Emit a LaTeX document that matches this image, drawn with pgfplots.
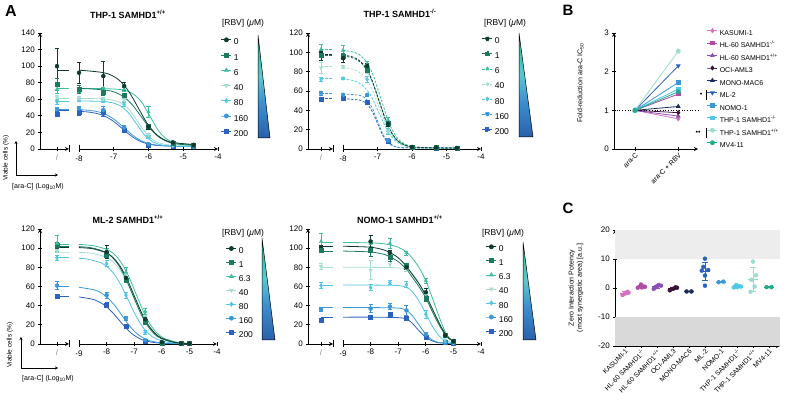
\documentclass[border=0pt]{standalone}
\usepackage{fontspec}
\setmainfont{Liberation Sans}
\usepackage{pgfplots}
\pgfplotsset{compat=1.18}
\usetikzlibrary{arrows.meta}

\definecolor{a0}{HTML}{0E3B2E}
\definecolor{a1}{HTML}{1D7A5F}
\definecolor{a6}{HTML}{3DBE9E}
\definecolor{a40}{HTML}{A6DDD0}
\definecolor{a80}{HTML}{52C6E2}
\definecolor{a160}{HTML}{3B97DA}
\definecolor{a200}{HTML}{2C62BF}
\definecolor{kas}{HTML}{D472C0}
\definecolor{hln}{HTML}{B14DA6}
\definecolor{hlp}{HTML}{8A4FB5}
\definecolor{oci}{HTML}{3B1238}
\definecolor{mono}{HTML}{1D2A5C}
\definecolor{mltwo}{HTML}{2C62BF}
\definecolor{nomo}{HTML}{3B97DA}
\definecolor{thpn}{HTML}{4DC8E6}
\definecolor{thpp}{HTML}{9ADDCF}
\definecolor{mvf}{HTML}{1FAE8B}
\definecolor{sh0}{HTML}{142858}
\definecolor{sh1}{HTML}{24529F}
\definecolor{sh2}{HTML}{3D8FCF}
\definecolor{sh3}{HTML}{5CC8D0}
\definecolor{sh4}{HTML}{30BE98}
\definecolor{sh5}{HTML}{135A45}
\pgfdeclareverticalshading{rbv}{100bp}{color(0bp)=(sh0); color(20bp)=(sh1); color(42bp)=(sh2); color(55bp)=(sh3); color(70bp)=(sh4); color(88bp)=(sh5); color(100bp)=(black)}

\newcommand\fT{\fontsize{8}{9.6}\selectfont}
\newcommand\fL{\fontsize{8.5}{10}\selectfont}
\newcommand\fS{\fontsize{7}{8.4}\selectfont}

\pgfplotsset{
 base/.style={scale only axis, clip=false, anchor=south west, axis line style={line width=0.8pt,-}, every tick/.style={line width=0.8pt, black}, major tick length=3.5pt, tick align=outside, /pgf/number format/assume math mode=true, ticklabel style={font=\fT}},
 ctrl/.style={base, axis x line=bottom, axis y line=left, xmin=0, xmax=1, ymin=0, extra x ticks={1}, extra x tick labels={}, extra x tick style={major tick length=7pt, tick align=center}},
 main/.style={base, axis x line=bottom, axis y line=none, ymin=0, ytick=\empty, extra x tick style={major tick length=7pt, tick align=center}, legend image code/.code={\draw[mark repeat=2,mark phase=2,##1] plot coordinates {(0pt,2.8pt) (5pt,2.8pt) (10pt,2.8pt)};}},
 leg/.style n args={3}{legend style={at={(#1,#2)}, anchor=north west, draw=none, fill=none, inner sep=0pt, outer sep=0pt, row sep=#3, column sep=1pt, nodes={inner sep=1pt, text height=6pt, text depth=1.5pt, font=\fL}}, legend cell align=left},
 eb/.style={/pgfplots/error bars/y dir=both, /pgfplots/error bars/y explicit, /pgfplots/error bars/error bar style={line width=0.6pt, solid}, /pgfplots/error bars/error mark options={rotate=90, line width=0.6pt, mark size=2pt, solid}},
 pts/.style={only marks, mark size=2pt, forget plot, eb},
 crv/.style={no marks, smooth, line width=0.8pt, forget plot},
 dsh/.style={dash pattern=on 2.5pt off 1.5pt},
 s0/.style={color=a0, mark=*},
 s1/.style={color=a1, mark=square*},
 s6/.style={color=a6, mark=triangle*},
 s40/.style={color=a40, mark=triangle*, mark options={rotate=180}},
 s80/.style={color=a80, mark=diamond*},
 s160/.style={color=a160, mark=*},
 s200/.style={color=a200, mark=square*},
 cmean/.style={only marks, mark=-, mark size=5pt, line width=0.8pt, /pgfplots/error bars/y dir=both, /pgfplots/error bars/y explicit, /pgfplots/error bars/error bar style={line width=0.7pt}, /pgfplots/error bars/error mark options={rotate=90, line width=0.7pt, mark size=3pt}},
}

\begin{document}
\begin{tikzpicture}[x=1pt,y=1pt]
\useasboundingbox (0,0) rectangle (800,415);

% ---------------- labels ----------------
\node[font=\bfseries\fontsize{16}{18}\selectfont] at (11,404) {A};
\node[font=\bfseries\fontsize{15}{17}\selectfont] at (568,405) {B};
\node[font=\bfseries\fontsize{15}{17}\selectfont] at (568,207) {C};
\node[font=\bfseries\fontsize{9}{10}\selectfont] at (128,401) {THP-1 SAMHD1\textsuperscript{+/+}};
\node[font=\bfseries\fontsize{9}{10}\selectfont] at (400,402) {THP-1 SAMHD1\textsuperscript{-/-}};
\node[font=\bfseries\fontsize{9}{10}\selectfont] at (128,196) {ML-2 SAMHD1\textsuperscript{+/+}};
\node[font=\bfseries\fontsize{9}{10}\selectfont] at (400,196) {NOMO-1 SAMHD1\textsuperscript{+/+}};
\node[font=\fL] at (243,392) {[RBV] (\textit{μ}M)};
\node[font=\fL] at (505,392) {[RBV] (\textit{μ}M)};
\node[font=\fL] at (243,182) {[RBV] (\textit{μ}M)};
\node[font=\fL] at (503,182) {[RBV] (\textit{μ}M)};

% colour wedges
\shade[shading=rbv] (258,380) -- (258,277) -- (270,277) -- cycle;
\draw[line width=0.5pt] (258,380) -- (258,277) -- (270,277) -- cycle;
\shade[shading=rbv] (519,382) -- (519,278) -- (533,278) -- cycle;
\draw[line width=0.5pt] (519,382) -- (519,278) -- (533,278) -- cycle;
\shade[shading=rbv] (262,177) -- (262,75) -- (275,75) -- cycle;
\draw[line width=0.5pt] (262,177) -- (262,75) -- (275,75) -- cycle;
\shade[shading=rbv] (523,173) -- (523,75) -- (536,75) -- cycle;
\draw[line width=0.5pt] (523,173) -- (523,75) -- (536,75) -- cycle;

% axis arrows
\draw[-{Stealth[length=3pt,width=3pt]}, line width=0.6pt] (16,240) -- (16,274);
\draw[-{Stealth[length=3pt,width=3pt]}, line width=0.6pt] (16,240) -- (58,240);
\node[rotate=90, font=\fontsize{6.5}{7.5}\selectfont] at (6,257) {Viable cells (\%)};
\node[font=\fontsize{7}{8}\selectfont] at (38,228) {[ara-C] (Log\textsubscript{10}M)};
\draw[-{Stealth[length=3pt,width=3pt]}, line width=0.6pt] (21,47) -- (21,78);
\draw[-{Stealth[length=3pt,width=3pt]}, line width=0.6pt] (21,47) -- (58,47);
\node[rotate=90, font=\fontsize{6.5}{7.5}\selectfont] at (10,70) {Viable cells (\%)};
\node[font=\fontsize{7}{8}\selectfont] at (48,36) {[ara-C] (Log\textsubscript{10}M)};

% ================= TL: THP-1 SAMHD1 +/+ =================
\begin{axis}[ctrl, at={(40pt,266pt)}, width=29pt, height=116pt, ymax=140, ytick={0,20,...,140}, xtick={0.586}, xticklabels={{\textcolor{gray}{/}}}]
\addplot[crv,a0] coordinates {(0.586,95) (1,95)};
\addplot[crv,a1] coordinates {(0.586,73) (1,73)};
\addplot[crv,a6] coordinates {(0.586,73) (1,73)};
\addplot[crv,a40] coordinates {(0.586,61) (1,61)};
\addplot[crv,a80] coordinates {(0.586,58) (1,58)};
\addplot[crv,a160] coordinates {(0.586,48) (1,48)};
\addplot[crv,a200] coordinates {(0.586,46) (1,46)};
\addplot[pts,s0] coordinates {(0.586,100) +- (0,22)};
\addplot[pts,s1] coordinates {(0.586,78) +- (0,7)};
\addplot[pts,s6] coordinates {(0.586,72) +- (0,5)};
\addplot[pts,s40] coordinates {(0.586,62) +- (0,3)};
\addplot[pts,s80] coordinates {(0.586,57) +- (0,3)};
\addplot[pts,s160] coordinates {(0.586,48) +- (0,2)};
\addplot[pts,s200] coordinates {(0.586,42) +- (0,3)};
\end{axis}
\begin{axis}[main, at={(79pt,266pt)}, width=139pt, height=116pt, xmin=-8, xmax=-4, ymax=140, xtick={-7,-6,-5,-4}, extra x ticks={-8}, leg={1.0216}{0.9586}{5.7pt}]
\addlegendimage{s0,line width=0.8pt,mark size=2pt}\addlegendentry{0}
\addlegendimage{s1,line width=0.8pt,mark size=2pt}\addlegendentry{1}
\addlegendimage{s6,line width=0.8pt,mark size=2pt}\addlegendentry{6}
\addlegendimage{s40,line width=0.8pt,mark size=2pt}\addlegendentry{40}
\addlegendimage{s80,line width=0.8pt,mark size=2pt}\addlegendentry{80}
\addlegendimage{s160,line width=0.8pt,mark size=2pt}\addlegendentry{160}
\addlegendimage{s200,line width=0.8pt,mark size=2pt}\addlegendentry{200}
\addplot[crv,a200] coordinates {(-8,45.4)(-7.75,44.7)(-7.5,43)(-7.25,39.5)(-7.0,33.2)(-6.75,24.5)(-6.5,15.8)(-6.25,9.5)(-6.0,6)(-5.75,4.3)(-5.25,3.3)(-4.7,3)};
\addplot[crv,a160] coordinates {(-8,47.5)(-7.7,46.6)(-7.45,44.9)(-7.2,41.2)(-6.95,34.6)(-6.7,25.5)(-6.45,16.4)(-6.2,9.8)(-5.95,6.2)(-5.7,4.4)(-5.2,3.3)(-4.7,3)};
\addplot[crv,a80] coordinates {(-8,58)(-7.85,57.9)(-7.35,57.5)(-7.1,56.3)(-6.85,53)(-6.6,44.8)(-6.35,30.5)(-6.1,16.2)(-5.85,8)(-5.6,4.7)(-5.35,3.6)(-4.7,3)};
\addplot[crv,a40] coordinates {(-8,61)(-7.8,61)(-7.3,60.4)(-7.05,59.2)(-6.8,55.8)(-6.55,47.3)(-6.3,32.5)(-6.05,17.7)(-5.8,9.2)(-5.55,5.8)(-5.3,4.6)(-4.7,4)};
\addplot[crv,a6] coordinates {(-8,73)(-7.45,72.9)(-6.95,72.3)(-6.7,70.9)(-6.45,66.8)(-6.2,56.7)(-5.95,39)(-5.7,21.3)(-5.45,11.2)(-5.2,7.1)(-4.95,5.7)(-4.7,5.2)};
\addplot[crv,a1] coordinates {(-8,73)(-7.7,72.6)(-7.2,70.9)(-6.95,68.2)(-6.7,62.6)(-6.45,52.5)(-6.2,38.5)(-5.95,24.5)(-5.7,14.4)(-5.45,8.8)(-5.2,6.1)(-4.7,4.4)};
\addplot[crv,a0] coordinates {(-8,95)(-7.8,94.5)(-7.3,92.2)(-7.05,88.7)(-6.8,81.4)(-6.55,68.3)(-6.3,50)(-6.05,31.7)(-5.8,18.6)(-5.55,11.3)(-5.3,7.8)(-4.7,5.4)};
\addplot[pts,s200] coordinates {(-8,45) +- (0,4) (-7.3,44) +- (0,4) (-6.7,23) +- (0,2) (-6,5) +- (0,1) (-5.3,3) +- (0,1) (-4.7,3) +- (0,1)};
\addplot[pts,s160] coordinates {(-8,49) +- (0,3) (-7.3,47) +- (0,4) (-6.7,26) +- (0,2) (-6,6) +- (0,1) (-5.3,4) +- (0,1) (-4.7,3) +- (0,1)};
\addplot[pts,s80] coordinates {(-8,59) +- (0,2) (-7.3,58) +- (0,2) (-6.7,54) +- (0,2) (-6,15) +- (0,2) (-5.3,4) +- (0,1) (-4.7,3) +- (0,1)};
\addplot[pts,s40] coordinates {(-8,61) +- (0,2) (-7.3,60) +- (0,2) (-6.7,59) +- (0,2) (-6,17) +- (0,2) (-5.3,5) +- (0,1) (-4.7,4) +- (0,1)};
\addplot[pts,s6] coordinates {(-8,72) +- (0,3) (-7.3,73) +- (0,2) (-6.7,72) +- (0,2) (-6,45) +- (0,7) (-5.3,8) +- (0,1) (-4.7,5) +- (0,1)};
\addplot[pts,s1] coordinates {(-8,72) +- (0,5) (-7.3,69) +- (0,4) (-6.7,65) +- (0,2) (-6,27) +- (0,2) (-5.3,7) +- (0,1) (-4.7,4) +- (0,1)};
\addplot[pts,s0] coordinates {(-8,92) +- (0,13) (-7.3,88) +- (0,18) (-6.7,76) +- (0,5) (-6,27) +- (0,3) (-5.3,8) +- (0,1) (-4.7,5) +- (0,1)};
\end{axis}

% ================= TR: THP-1 SAMHD1 -/- =================
\begin{axis}[ctrl, at={(308pt,266pt)}, width=25pt, height=116pt, ymax=120, ytick={0,20,...,120}, xtick={0.52}, xticklabels={{\textcolor{gray}{/}}}]
\addplot[crv,dsh,a0] coordinates {(0.52,98) (1,98)};
\addplot[crv,dsh,a1] coordinates {(0.52,97) (1,97)};
\addplot[crv,dsh,a6] coordinates {(0.52,103) (1,103)};
\addplot[crv,dsh,a40] coordinates {(0.52,85) (1,85)};
\addplot[crv,dsh,a80] coordinates {(0.52,73) (1,73)};
\addplot[crv,dsh,a160] coordinates {(0.52,57) (1,57)};
\addplot[crv,dsh,a200] coordinates {(0.52,52) (1,52)};
\addplot[pts,s0] coordinates {(0.52,100) +- (0,8)};
\addplot[pts,s1] coordinates {(0.52,97.5) +- (0,3)};
\addplot[pts,s6] coordinates {(0.52,103) +- (0,5)};
\addplot[pts,s40] coordinates {(0.52,84) +- (0,6)};
\addplot[pts,s80] coordinates {(0.52,72) +- (0,2)};
\addplot[pts,s160] coordinates {(0.52,58) +- (0,2)};
\addplot[pts,s200] coordinates {(0.52,51) +- (0,2)};
\end{axis}
\begin{axis}[main, at={(343pt,266pt)}, width=138pt, height=116pt, xmin=-8, xmax=-4, ymax=120, xtick={-7,-6,-5,-4}, extra x ticks={-8}, leg={1.0072}{0.9672}{5.5pt}]
\addlegendimage{s0,dsh,line width=0.8pt,mark size=2pt}\addlegendentry{0}
\addlegendimage{s1,dsh,line width=0.8pt,mark size=2pt}\addlegendentry{1}
\addlegendimage{s6,dsh,line width=0.8pt,mark size=2pt}\addlegendentry{6}
\addlegendimage{s40,dsh,line width=0.8pt,mark size=2pt}\addlegendentry{40}
\addlegendimage{s80,dsh,line width=0.8pt,mark size=2pt}\addlegendentry{80}
\addlegendimage{s160,dsh,line width=0.8pt,mark size=2pt}\addlegendentry{160}
\addlegendimage{s200,dsh,line width=0.8pt,mark size=2pt}\addlegendentry{200}
\addplot[crv,dsh,a200] coordinates {(-8,52)(-7.5,50.4)(-7.3,46.3)(-7.15,38.6)(-7.0,26.5)(-6.85,14.4)(-6.7,6.7)(-6.5,2.6)(-6.25,1.3)(-5.3,1)(-4.7,1)};
\addplot[crv,dsh,a160] coordinates {(-8,57)(-7.5,55.3)(-7.3,50.7)(-7.15,42.3)(-7.0,29)(-6.85,15.7)(-6.7,7.3)(-6.5,2.7)(-6.25,1.3)(-5.3,1)(-4.7,1)};
\addplot[crv,dsh,a80] coordinates {(-8,72.4)(-7.7,70.8)(-7.45,66.4)(-7.2,55.7)(-6.95,37)(-6.7,18.3)(-6.45,7.6)(-6.2,3.2)(-5.95,1.7)(-5.3,1.1)(-4.7,1)};
\addplot[crv,dsh,a40] coordinates {(-8,84.3)(-7.7,82.4)(-7.45,77.4)(-7.2,64.8)(-6.95,43)(-6.7,21.2)(-6.45,8.6)(-6.2,3.6)(-5.95,1.8)(-5.3,1.1)(-4.7,1)};
\addplot[crv,dsh,a6] coordinates {(-8,102.1)(-7.65,99.8)(-7.4,93.7)(-7.15,78.5)(-6.9,52)(-6.65,25.5)(-6.4,10.3)(-6.15,4.2)(-5.9,2)(-5.3,1.1)(-4.7,1)};
\addplot[crv,dsh,a1] coordinates {(-8,96.2)(-7.7,94)(-7.45,88.3)(-7.2,74)(-6.95,49)(-6.7,24)(-6.45,9.7)(-6.2,4)(-5.95,2)(-5.3,1.1)(-4.7,1)};
\addplot[crv,dsh,a0] coordinates {(-8,97.2)(-7.7,95)(-7.45,89.2)(-7.2,74.7)(-6.95,49.5)(-6.7,24.3)(-6.45,9.8)(-6.2,4)(-5.95,2)(-5.3,1.1)(-4.7,1)};
\addplot[pts,s200] coordinates {(-8,53) +- (0,1) (-7.3,48) +- (0,2) (-6.7,8) +- (0,2) (-6,1.5) +- (0,0.5) (-5.3,1) +- (0,0.5) (-4.7,1) +- (0,0.5)};
\addplot[pts,s160] coordinates {(-8,56) +- (0,1) (-7.3,56) +- (0,1) (-6.7,9) +- (0,2) (-6,1.5) +- (0,0.5) (-5.3,1) +- (0,0.5) (-4.7,1) +- (0,0.5)};
\addplot[pts,s80] coordinates {(-8,73) +- (0,1) (-7.3,72) +- (0,3) (-6.7,18) +- (0,3) (-6,2) +- (0,0.5) (-5.3,1) +- (0,0.5) (-4.7,1) +- (0,0.5)};
\addplot[pts,s40] coordinates {(-8,85) +- (0,2) (-7.3,80) +- (0,2) (-6.7,18) +- (0,2) (-6,2) +- (0,0.5) (-5.3,1) +- (0,0.5) (-4.7,1) +- (0,0.5)};
\addplot[pts,s6] coordinates {(-8,102) +- (0,5) (-7.3,88) +- (0,3) (-6.7,30) +- (0,3) (-6,2) +- (0,1) (-5.3,1.5) +- (0,0.5) (-4.7,1) +- (0,0.5)};
\addplot[pts,s1] coordinates {(-8,96) +- (0,3) (-7.3,82) +- (0,3) (-6.7,27) +- (0,2) (-6,2) +- (0,1) (-5.3,1.5) +- (0,0.5) (-4.7,1) +- (0,0.5)};
\addplot[pts,s0] coordinates {(-8,94) +- (0,4) (-7.3,86) +- (0,3) (-6.7,26) +- (0,3) (-6,2) +- (0,1) (-5.3,1.5) +- (0,1) (-4.7,1) +- (0,1)};
\end{axis}

% ================= BL: ML-2 =================
\begin{axis}[ctrl, at={(40pt,71pt)}, width=29pt, height=115pt, ymax=120, ytick={0,20,...,120}, xtick={0.586}, xticklabels={{\textcolor{gray}{/}}}]
\addplot[crv,a0] coordinates {(0.586,101) (1,101)};
\addplot[crv,a1] coordinates {(0.586,102) (1,102)};
\addplot[crv,a6] coordinates {(0.586,104) (1,104)};
\addplot[crv,a40] coordinates {(0.586,96) (1,96)};
\addplot[crv,a80] coordinates {(0.586,90) (1,90)};
\addplot[crv,a160] coordinates {(0.586,60) (1,60)};
\addplot[crv,a200] coordinates {(0.586,50) (1,50)};
\addplot[pts,s0] coordinates {(0.586,101) +- (0,2)};
\addplot[pts,s1] coordinates {(0.586,103) +- (0,3)};
\addplot[pts,s6] coordinates {(0.586,105) +- (0,8)};
\addplot[pts,s40] coordinates {(0.586,98) +- (0,2)};
\addplot[pts,s80] coordinates {(0.586,90) +- (0,3)};
\addplot[pts,s160] coordinates {(0.586,61) +- (0,4)};
\addplot[pts,s200] coordinates {(0.586,50) +- (0,2)};
\end{axis}
\begin{axis}[main, at={(79pt,71pt)}, width=138pt, height=115pt, xmin=-9, xmax=-4, ymax=120, xtick={-8,-7,-6,-5,-4}, extra x ticks={-9}, leg={1.0652}{0.8478}{4.4pt}]
\addlegendimage{s0,line width=0.8pt,mark size=2pt}\addlegendentry{0}
\addlegendimage{s1,line width=0.8pt,mark size=2pt}\addlegendentry{1}
\addlegendimage{s6,line width=0.8pt,mark size=2pt}\addlegendentry{6.3}
\addlegendimage{s40,line width=0.8pt,mark size=2pt}\addlegendentry{40}
\addlegendimage{s80,line width=0.8pt,mark size=2pt}\addlegendentry{80}
\addlegendimage{s160,line width=0.8pt,mark size=2pt}\addlegendentry{160}
\addlegendimage{s200,line width=0.8pt,mark size=2pt}\addlegendentry{200}
\addplot[crv,a200] coordinates {(-9,49.1)(-8.55,47)(-8.3,44.4)(-8.05,40)(-7.8,33.3)(-7.55,25)(-7.3,16.7)(-7.05,10)(-6.8,5.6)(-6.55,3)(-6.05,0.8)(-5,0)};
\addplot[crv,a160] coordinates {(-9,59.2)(-8.45,56.5)(-8.2,53.3)(-7.95,47.9)(-7.7,40)(-7.45,30)(-7.2,20)(-6.95,12.1)(-6.7,6.7)(-6.45,3.5)(-5.95,1)(-5,0.1)};
\addplot[crv,a80] coordinates {(-9,89.4)(-8.7,88.6)(-8.2,84.7)(-7.95,79.9)(-7.7,71.9)(-7.45,59.9)(-7.2,45)(-6.95,30.1)(-6.7,18.1)(-6.45,10.1)(-6.2,5.3)(-5.7,1.4)(-5,0.2)};
\addplot[crv,a40] coordinates {(-9,95.6)(-8.5,94.5)(-8,90.3)(-7.75,85.2)(-7.5,76.7)(-7.25,63.9)(-7,48)(-6.75,32.1)(-6.5,19.3)(-6.25,10.8)(-6,5.7)(-5.5,1.5)(-5,0.4)};
\addplot[crv,a6] coordinates {(-9,104)(-8.43,102.3)(-7.93,97.9)(-7.68,92.4)(-7.43,83.1)(-7.18,69.3)(-6.93,52)(-6.68,34.7)(-6.43,20.9)(-6.18,11.6)(-5.93,6.1)(-5.43,1.7)(-5,0.5)};
\addplot[crv,a1] coordinates {(-9,101.6)(-8.55,100.4)(-8.05,96)(-7.8,90.6)(-7.55,81.5)(-7.3,67.9)(-7.05,51)(-6.8,34.1)(-6.55,20.5)(-6.3,11.4)(-6.05,6)(-5.55,1.6)(-5,0.4)};
\addplot[crv,a0] coordinates {(-9,100.6)(-8.5,99.4)(-8,95)(-7.75,89.7)(-7.5,80.7)(-7.25,67.3)(-7,50.5)(-6.75,33.7)(-6.5,20.3)(-6.25,11.3)(-6,6)(-5.5,1.6)(-5,0.4)};
\addplot[pts,s200] coordinates {(-8,41) +- (0,3) (-7.3,19) +- (0,2) (-6.6,3) +- (0,1) (-6,1) +- (0,0.5) (-5.3,0.5) +- (0,0.5) (-5,0.5) +- (0,0.5)};
\addplot[pts,s160] coordinates {(-8,51) +- (0,3) (-7.3,27) +- (0,2) (-6.6,4) +- (0,1) (-6,1) +- (0,0.5) (-5.3,0.5) +- (0,0.5) (-5,0.5) +- (0,0.5)};
\addplot[pts,s80] coordinates {(-8,84) +- (0,3) (-7.3,51) +- (0,3) (-6.6,12) +- (0,2) (-6,1) +- (0,0.5) (-5.3,0.5) +- (0,0.5) (-5,0.5) +- (0,0.5)};
\addplot[pts,s40] coordinates {(-8,92) +- (0,2) (-7.3,72) +- (0,3) (-6.6,28) +- (0,2) (-6,1.5) +- (0,0.5) (-5.3,0.5) +- (0,0.5) (-5,0.5) +- (0,0.5)};
\addplot[pts,s6] coordinates {(-8,97) +- (0,3) (-7.3,75) +- (0,5) (-6.6,34) +- (0,3) (-6,2) +- (0,1) (-5.3,0.5) +- (0,0.5) (-5,0.5) +- (0,0.5)};
\addplot[pts,s1] coordinates {(-8,93) +- (0,3) (-7.3,67) +- (0,3) (-6.6,24) +- (0,3) (-6,1) +- (0,1) (-5.3,0.5) +- (0,0.5) (-5,0.5) +- (0,0.5)};
\addplot[pts,s0] coordinates {(-8,96) +- (0,7) (-7.3,69) +- (0,4) (-6.6,26) +- (0,3) (-6,2) +- (0,1) (-5.3,0.5) +- (0,0.5) (-5,0.5) +- (0,0.5)};
\end{axis}

% ================= BR: NOMO-1 =================
\begin{axis}[ctrl, at={(308pt,71pt)}, width=25pt, height=115pt, ymax=120, ytick={0,20,...,120}, xtick={0.52}, xticklabels={{\textcolor{gray}{/}}}]
\addplot[crv,a0] coordinates {(0.52,102) (1,102)};
\addplot[crv,a1] coordinates {(0.52,97) (1,97)};
\addplot[crv,a6] coordinates {(0.52,106) (1,106)};
\addplot[crv,a40] coordinates {(0.52,80) (1,80)};
\addplot[crv,a80] coordinates {(0.52,61.5) (1,61.5)};
\addplot[crv,a160] coordinates {(0.52,38) (1,38)};
\addplot[crv,a200] coordinates {(0.52,28) (1,28)};
\addplot[pts,s0] coordinates {(0.52,101) +- (0,2)};
\addplot[pts,s1] coordinates {(0.52,98) +- (0,2)};
\addplot[pts,s6] coordinates {(0.52,107) +- (0,8)};
\addplot[pts,s40] coordinates {(0.52,81) +- (0,3)};
\addplot[pts,s80] coordinates {(0.52,61) +- (0,3)};
\addplot[pts,s160] coordinates {(0.52,36) +- (0,2)};
\addplot[pts,s200] coordinates {(0.52,25) +- (0,2)};
\end{axis}
\begin{axis}[main, at={(343pt,71pt)}, width=138pt, height=115pt, xmin=-9, xmax=-4, ymax=120, xtick={-8,-7,-6,-5,-4}, extra x ticks={-9}, leg={1.0362}{0.8626}{4.5pt}]
\addlegendimage{s0,line width=0.8pt,mark size=2pt}\addlegendentry{0}
\addlegendimage{s1,line width=0.8pt,mark size=2pt}\addlegendentry{1}
\addlegendimage{s6,line width=0.8pt,mark size=2pt}\addlegendentry{6.3}
\addlegendimage{s40,line width=0.8pt,mark size=2pt}\addlegendentry{40}
\addlegendimage{s80,line width=0.8pt,mark size=2pt}\addlegendentry{80}
\addlegendimage{s160,line width=0.8pt,mark size=2pt}\addlegendentry{160}
\addlegendimage{s200,line width=0.8pt,mark size=2pt}\addlegendentry{200}
\addplot[crv,a200] coordinates {(-9,28)(-8,28)(-7,27.5)(-6.7,26)(-6.5,22)(-6.25,14)(-6,7)(-5.75,3)(-5.5,1.2)(-5,0.3)};
\addplot[crv,a160] coordinates {(-9,38)(-8,38)(-7,37.5)(-6.7,35)(-6.5,30)(-6.25,20)(-6,10)(-5.75,4)(-5.5,1.5)(-5,0.5)};
\addplot[crv,a80] coordinates {(-9,61.5)(-8,61.5)(-7,61)(-6.7,59)(-6.5,55)(-6.25,45)(-6,32)(-5.75,18)(-5.5,8)(-5.3,3.5)(-5,1)};
\addplot[crv,a40] coordinates {(-9,80)(-8,80)(-7,79.5)(-6.7,78)(-6.5,74)(-6.25,64)(-6,50)(-5.75,34)(-5.5,19)(-5.3,10)(-5.15,5)(-5,2.5)};
\addplot[crv,a6] coordinates {(-9,106)(-8,105.5)(-7.5,104.5)(-7,101)(-6.7,96)(-6.5,90)(-6.25,80)(-6,66)(-5.75,47)(-5.5,27)(-5.3,13)(-5.15,6)(-5,3)};
\addplot[crv,a1] coordinates {(-9,97)(-8,96)(-7.5,93.5)(-7.3,91)(-7,86)(-6.7,78)(-6.5,70)(-6.25,60)(-6,48)(-5.75,33)(-5.5,19)(-5.3,10)(-5.15,5.5)(-5,3)};
\addplot[crv,a0] coordinates {(-9,102)(-8,101)(-7.5,98)(-7.3,95.5)(-7,90)(-6.7,81)(-6.5,73)(-6.25,63)(-6,51)(-5.75,36)(-5.5,21)(-5.3,11)(-5.15,6)(-5,3)};
\addplot[pts,s200] coordinates {(-8,28) +- (0,1) (-7.3,31) +- (0,1) (-6.7,27) +- (0,2) (-6,7) +- (0,1) (-5.3,1.5) +- (0,0.5) (-5,1) +- (0,0.5)};
\addplot[pts,s160] coordinates {(-8,37) +- (0,4) (-7.3,39) +- (0,3) (-6.7,35) +- (0,5) (-6,10) +- (0,2) (-5.3,1.5) +- (0,0.5) (-5,1) +- (0,0.5)};
\addplot[pts,s80] coordinates {(-8,59) +- (0,3) (-7.3,64) +- (0,2) (-6.7,62) +- (0,3) (-6,31) +- (0,4) (-5.3,3) +- (0,1) (-5,1.5) +- (0,0.5)};
\addplot[pts,s40] coordinates {(-8,77) +- (0,10) (-7.3,83) +- (0,3) (-6.7,78) +- (0,2) (-6,52) +- (0,3) (-5.3,6) +- (0,1) (-5,2) +- (0,1)};
\addplot[pts,s6] coordinates {(-8,105) +- (0,3) (-7.3,105) +- (0,5) (-6.7,95) +- (0,2) (-6,66) +- (0,3) (-5.3,9) +- (0,1) (-5,3) +- (0,1)};
\addplot[pts,s1] coordinates {(-8,98) +- (0,7) (-7.3,91) +- (0,5) (-6.7,82) +- (0,2) (-6,48) +- (0,3) (-5.3,9) +- (0,1) (-5,2.5) +- (0,1)};
\addplot[pts,s0] coordinates {(-8,107) +- (0,6) (-7.3,95) +- (0,3) (-6.7,80) +- (0,2) (-6,54) +- (0,4) (-5.3,9) +- (0,1) (-5,3) +- (0,1)};
\end{axis}

% ================= B =================
\node[font=\fS] at (701,320) {•};
\draw[line width=0.6pt] (706,315) -- (706,325);
\node[font=\fS] at (698,282) {••};
\draw[line width=0.6pt] (706,277) -- (706,287);
\begin{axis}[base, at={(614pt,266pt)}, width=84pt, height=116pt, axis lines=left, xmin=-0.485, xmax=1.455, ymin=0, ymax=3, ytick={0,1,2,3}, xtick={0,1}, xticklabels={ara-C, ara-C + RBV}, xticklabel style={rotate=45, anchor=north east, inner sep=1pt, font=\fS}, yticklabel style={font=\fT},
 ylabel={Fold-reduction ara-C IC\textsubscript{50}}, ylabel style={font=\fS, at={(axis description cs:-0.32,0.57)}},
 legend image code/.code={\draw[mark repeat=2,mark phase=2,#1] plot coordinates {(0pt,2.6pt) (5pt,2.6pt) (10pt,2.6pt)};},
 legend style={at={(1.107,1.0388)}, anchor=north west, draw=none, fill=none, inner sep=0pt, outer sep=0pt, row sep=2.95pt, column sep=1pt, nodes={inner sep=1pt, text height=6pt, text depth=1.5pt, font=\fS}}, legend cell align=left]
\addplot[black, dotted, line width=0.7pt, forget plot] coordinates {(-0.485,1) (1.455,1)};
\addplot[kas, mark=diamond*, mark size=2pt, line width=0.8pt] coordinates {(0,1) (1,0.78)}; \addlegendentry{KASUMI-1}
\addplot[hln, mark=square*, mark size=1.6pt, line width=0.8pt] coordinates {(0,1) (1,1.42)}; \addlegendentry{HL-60 SAMHD1\textsuperscript{-/-}}
\addplot[hlp, mark=triangle*, mark size=2pt, line width=0.8pt] coordinates {(0,1) (1,0.85)}; \addlegendentry{HL-60 SAMHD1\textsuperscript{+/+}}
\addplot[oci, mark=diamond*, mark size=2pt, line width=0.8pt] coordinates {(0,1) (1,0.94)}; \addlegendentry{OCI-AML3}
\addplot[mono, mark=triangle*, mark size=2pt, line width=0.8pt] coordinates {(0,1) (1,1.10)}; \addlegendentry{MONO-MAC6}
\addplot[mltwo, mark=triangle*, mark options={rotate=180}, mark size=2pt, line width=0.8pt] coordinates {(0,1) (1,2.15)}; \addlegendentry{ML-2}
\addplot[nomo, mark=square*, mark size=1.8pt, line width=0.8pt] coordinates {(0,1) (1,1.72)}; \addlegendentry{NOMO-1}
\addplot[thpn, mark=square*, mark size=1.8pt, line width=0.8pt] coordinates {(0,1) (1,1.55)}; \addlegendentry{THP-1 SAMHD1\textsuperscript{-/-}}
\addplot[thpp, mark=*, mark size=2pt, line width=0.8pt] coordinates {(0,1) (1,2.53)}; \addlegendentry{THP-1 SAMHD1\textsuperscript{+/+}}
\addplot[mvf, mark=*, mark size=2pt, line width=0.8pt] coordinates {(0,1) (1,1.48)}; \addlegendentry{MV4-11}
\end{axis}

% ================= C =================
\begin{axis}[base, at={(615pt,69pt)}, width=165pt, height=116pt, axis lines=left, xmin=-0.625, xmax=9.69, ymin=-20, ymax=20, ytick={-20,-10,0,10,20}, xtick={0,...,9},
 xticklabels={KASUMI-1, HL-60 SAMHD1\textsuperscript{-/-}, HL-60 SAMHD1\textsuperscript{+/+}, OCI-AML3, MONO-MAC6, ML-2, NOMO-1, THP-1 SAMHD1\textsuperscript{-/-}, THP-1 SAMHD1\textsuperscript{+/+}, MV4-11},
 xticklabel style={rotate=45, anchor=north east, inner sep=0.5pt, font=\fontsize{6.8}{8}\selectfont}, yticklabel style={font=\fT},
 ylabel={Zero Interaction Potency\\(most synergistic area) [a.u.]}, ylabel style={align=center, font=\fS, at={(axis description cs:-0.17,0.5)}}]
\fill[black!7] (axis cs:-0.625,10) rectangle (axis cs:9.69,20);
\fill[black!15] (axis cs:-0.625,-20) rectangle (axis cs:9.69,-10);
\addplot[only marks, mark=*, mark size=2pt, kas] coordinates {(-0.15,-2.4) (0,-1.9) (0.15,-1.3) (0.22,-1.6)};
\addplot[only marks, mark=*, mark size=2pt, hln] coordinates {(0.8,0.1) (1,1.2) (1.15,0.5) (1.25,0.4) (1.05,0.2)};
\addplot[only marks, mark=*, mark size=2pt, hlp] coordinates {(1.8,-0.3) (2,0.6) (2.1,1.0) (2.25,0.8) (1.95,0.3)};
\addplot[only marks, mark=*, mark size=2pt, oci] coordinates {(2.8,-0.8) (3,-0.3) (3.15,0.2) (3.25,0.1)};
\addplot[only marks, mark=*, mark size=2pt, mono] coordinates {(3.85,-1.2) (4.15,-1.2)};
\addplot[only marks, mark=*, mark size=2pt, mltwo] coordinates {(5,10.1) (4.9,7.3) (4.8,6.0) (5.2,6.2) (5,4.3) (5,0.8)};
\addplot[only marks, mark=*, mark size=2pt, nomo] coordinates {(5.85,2.0) (6.15,2.2)};
\addplot[only marks, mark=*, mark size=2pt, thpn] coordinates {(6.8,0.2) (6.95,1.0) (7.1,0.6) (7.25,0.5) (7,0.3)};
\addplot[only marks, mark=*, mark size=2pt, thpp] coordinates {(8,9.1) (8.2,4.4) (7.9,2.8) (8.1,0.5) (7.85,-1.3)};
\addplot[only marks, mark=*, mark size=2pt, mvf] coordinates {(8.85,0.3) (9.15,0.3)};
\addplot[cmean, kas] coordinates {(0,-1.8) +- (0,0.5)};
\addplot[cmean, hln] coordinates {(1,0.5) +- (0,0.4)};
\addplot[cmean, hlp] coordinates {(2,0.5) +- (0,0.5)};
\addplot[cmean, oci] coordinates {(3,-0.2) +- (0,0.4)};
\addplot[cmean, mono] coordinates {(4,-1.2) +- (0,0.1)};
\addplot[cmean, mltwo] coordinates {(5,5.8) +- (0,3.2)};
\addplot[cmean, nomo] coordinates {(6,2.1) +- (0,0.1)};
\addplot[cmean, thpn] coordinates {(7,0.5) +- (0,0.3)};
\addplot[cmean, thpp] coordinates {(8,3.1) +- (0,4.1)};
\addplot[cmean, mvf] coordinates {(9,0.3) +- (0,0.1)};
\end{axis}
\end{tikzpicture}
\end{document}
